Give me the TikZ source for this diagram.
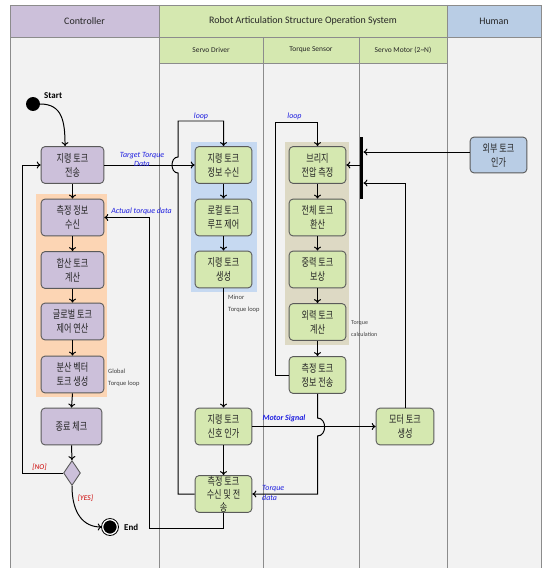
\documentclass[tikz,border=0pt]{standalone}
\usepackage{fontspec}
\setmainfont{Carlito}
\newfontfamily\kr[FakeStretch=0.74]{Noto Sans CJK KR}
\usetikzlibrary{shapes.geometric,arrows.meta}
\definecolor{ctrlfill}{HTML}{CCC0DA}
\definecolor{rasfill}{HTML}{D5E8B0}
\definecolor{humfill}{HTML}{B9CDE5}
\definecolor{bodyfill}{HTML}{F2F2F2}
\definecolor{gridline}{HTML}{8C8C8C}
\definecolor{boxline}{HTML}{5A5A5A}
\definecolor{globfill}{HTML}{FCD5B4}
\definecolor{minorfill}{HTML}{C6D9F1}
\definecolor{calcfill}{HTML}{DDD9C4}
\definecolor{flowblue}{HTML}{1F1FE0}
\newcommand{\krtext}{\kr\fontsize{11}{14}\selectfont}

\tikzset{
  ctrlbox/.style={draw=boxline,line width=0.9pt,fill=ctrlfill,rounded corners=4pt,
    minimum width=63pt,minimum height=37pt,inner sep=0pt,align=center,
    text=black!85,font=\krtext},
  rasbox/.style={ctrlbox,fill=rasfill,minimum width=57pt},
  humbox/.style={ctrlbox,fill=humfill,minimum width=57pt,minimum height=36pt},
  arr/.style={-{To[length=4pt,width=7pt]},line width=1pt},
  flow/.style={font=\fontsize{8}{9.5}\selectfont\itshape,text=flowblue,align=center,inner sep=0pt},
  note/.style={font=\fontsize{6.5}{12}\selectfont,text=black!75,align=left,inner sep=0pt},
  guard/.style={font=\fontsize{7.5}{8}\selectfont\itshape,text=red!80!black,inner sep=0pt},
  lanehead/.style={font=\fontsize{10}{11}\selectfont,text=black!85,inner sep=0pt},
  subhead/.style={font=\fontsize{7.5}{8}\selectfont,text=black!85,inner sep=0pt}
}

\begin{document}
\begin{tikzpicture}[x=1bp,y=-1bp]
  \useasboundingbox (0,0) rectangle (544,568);

  %swim lanes
  \fill[bodyfill] (10,37) rectangle (541,568);
  \fill[ctrlfill] (10,5) rectangle (159,37);
  \fill[rasfill] (159,5) rectangle (447,63);
  \fill[humfill] (447,5) rectangle (541,37);
  \draw[gridline,line width=0.8pt] (10,568) -- (10,5) -- (541,5) -- (541,568);
  \draw[gridline,line width=0.8pt] (10,37) -- (541,37);
  \draw[gridline,line width=0.8pt] (159,63) -- (447,63);
  \foreach \x in {159,447} {
    \draw[gridline,line width=0.8pt] (\x,5) -- (\x,568);
  }
  \foreach \x in {263,359} {
    \draw[gridline,line width=0.8pt] (\x,37) -- (\x,568);
  }
  \node[lanehead] (hctrl) at (84.5,21) {Controller};
  \node[lanehead] (hras) at (303,21) {Robot Articulation Structure Operation System};
  \node[lanehead] (hhum) at (494,21) {Human};
  \node[subhead] (hsd) at (211,50) {Servo Driver};
  \node[subhead] (hts) at (311,50) {Torque Sensor};
  \node[subhead] (hsm) at (403,50) {Servo Motor (2\textasciitilde N)};

  %loop regions
  \fill[globfill] (36,194) rectangle (107,397);
  \fill[minorfill] (191,142) rectangle (257,292);
  \fill[calcfill] (285,142) rectangle (349,345);

  %controller
  \node[circle,fill=black,minimum size=14pt,inner sep=0pt] (start) at (33,104) {};
  \node[font=\bfseries\fontsize{9}{10}\selectfont,anchor=west,inner sep=0pt] (lstart) at (44,96) {Start};
  \node[ctrlbox] (c1) at (72.5,165) {지령 토크\\전송};
  \node[ctrlbox] (c2) at (72.5,217.5) {측정 정보\\수신};
  \node[ctrlbox] (c3) at (72.5,270) {합산 토크\\계산};
  \node[ctrlbox] (c4) at (72.5,321.5) {글로벌 토크\\제어 연산};
  \node[ctrlbox] (c5) at (72.5,374.5) {분산 벡터\\토크 생성};
  \node[ctrlbox,minimum width=61pt] (c6) at (71.5,426.5) {종료 체크};
  \node[diamond,draw=boxline,line width=0.9pt,fill=ctrlfill,minimum width=17pt,
    minimum height=25pt,inner sep=0pt] (dec) at (72,473) {};
  \node[circle,fill=black,draw=white,line width=1.6pt,minimum size=15pt,inner sep=0pt] (end) at (110,527) {};
  \draw[line width=0.8pt] (end) circle (8.5);
  \node[font=\bfseries\fontsize{9}{10}\selectfont,anchor=west,inner sep=0pt] (lend) at (124,527) {End};
  \coordinate (noturn) at (22,473);

  %servo driver
  \node[rasbox] (sd1) at (223.5,165) {지령 토크\\정보 수신};
  \node[rasbox] (sd2) at (223.5,217.5) {로컬 토크\\루프 제어};
  \node[rasbox] (sd3) at (223.5,269.5) {지령 토크\\생성};
  \node[rasbox] (sd4) at (223.5,426.5) {지령 토크\\신호 인가};
  \node[rasbox,inner ysep=-2pt,font=\kr\fontsize{11}{13}\selectfont] (sd5) at (223.5,494) {측정 토크\\수신 및 전\\송};
  \coordinate (sdloop) at (178,121);
  \coordinate (ret) at (149,528);

  %torque sensor
  \node[rasbox] (ts1) at (317.5,165) {브리지\\전압 측정};
  \node[rasbox] (ts2) at (317.5,217.5) {전체 토크\\환산};
  \node[rasbox] (ts3) at (317.5,269.5) {중력 토크\\보상};
  \node[rasbox] (ts4) at (317.5,322) {외력 토크\\계산};
  \node[rasbox] (ts5) at (317.5,375) {측정 토크\\정보 전송};
  \coordinate (tsloop) at (275,122);

  %servo motor and human
  \node[rasbox,minimum width=58pt] (mot) at (405,426.5) {모터 토크\\생성};
  \node[humbox] (hum) at (498.5,155) {외부 토크\\인가};
  \node[rectangle,fill=black,minimum width=3.5pt,minimum height=62pt,inner sep=0pt] (bar) at (361.5,168) {};
  \coordinate (motup) at (405,183);
  \coordinate (humout) at ([yshift=3pt]hum.west);

  %flows
  \draw[arr] (start.east) .. controls +(22,0) and +(0,-25) .. ([xshift=-7.5pt]c1.north);
  \foreach \a/\b in {c1/c2,c2/c3,c3/c4,c4/c5,c5/c6,c6/dec,sd1/sd2,sd2/sd3,sd3/sd4,sd4/sd5,ts1/ts2,ts2/ts3,ts3/ts4,ts4/ts5} {
    \draw[arr] (\a.south) -- (\b.north);
  }
  \draw[arr] (dec.south) .. controls +(0,28) and +(-18,0) .. (end.west);
  \draw[arr] (dec.west) -- (noturn) |- (c1.west);
  \draw[arr] (c1.east) -- (sd1.west);
  \draw[arr] (sd5.west) -| (178,173) .. controls (170,173) and (170,157) .. (178,157)
    -- (sdloop) -| (sd1.north);
  \draw[arr] (ts5.west) -| (tsloop) -| (ts1.north);
  \draw[arr] (sd4.east) -- (mot.west);
  \draw[arr] (ts5.south) -- (317.5,418) .. controls (327,418) and (327,436) .. (317.5,436)
    |- (sd5.east);
  \draw[arr] (sd5.south) |- (ret) |- (c2.east);
  \draw[arr] (bar.west |- ts1.east) -- (ts1.east);
  \draw[arr] (humout) -- (bar.east |- humout);
  \draw[arr] (mot.north) |- (bar.east |- motup);

  %labels
  \node[flow] (ltarget) at (142,159.5) {Target Torque\\Data};
  \node[flow] (lactual) at (141.5,211) {Actual torque data};
  \node[flow] (lsdloop) at (201,116) {loop};
  \node[flow] (ltsloop) at (294.5,116) {loop};
  \node[flow,font=\fontsize{8}{9.5}\selectfont\bfseries\itshape] (lmotor) at (284,418) {Motor Signal};
  \node[flow,anchor=west,align=left] (ltdata) at (262,493) {Torque\\data};
  \node[note,anchor=west] (lglobal) at (108,378) {Global\\Torque loop};
  \node[note,anchor=west] (lminor) at (228,304) {Minor\\Torque loop};
  \node[note,anchor=west,font=\fontsize{6}{12}\selectfont] (lcalc) at (351,329) {Torque\\calculation};
  \node[guard] (lno) at (39.5,467) {[NO]};
  \node[guard] (lyes) at (85.5,498) {[YES]};
\end{tikzpicture}
\end{document}
